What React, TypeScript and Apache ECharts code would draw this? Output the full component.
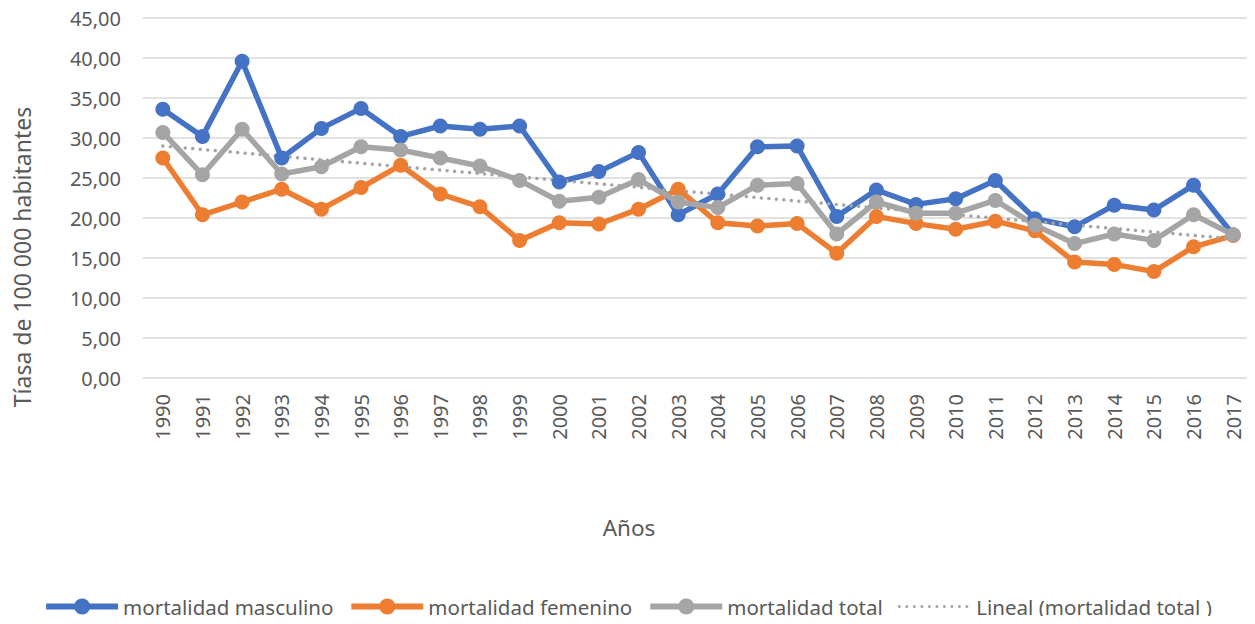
import React, { useEffect, useRef } from "react";
import * as echarts from "echarts";

const years = [
  "1990", "1991", "1992", "1993", "1994", "1995", "1996", "1997", "1998", "1999",
  "2000", "2001", "2002", "2003", "2004", "2005", "2006", "2007", "2008", "2009",
  "2010", "2011", "2012", "2013", "2014", "2015", "2016", "2017",
];

const masculino = [
  33.6, 30.2, 39.6, 27.5, 31.2, 33.7, 30.2, 31.5, 31.1, 31.5,
  24.5, 25.8, 28.2, 20.4, 23.0, 28.9, 29.0, 20.2, 23.5, 21.7,
  22.4, 24.7, 19.9, 18.9, 21.6, 21.0, 24.1, 17.9,
];

const femenino = [
  27.5, 20.4, 22.0, 23.6, 21.1, 23.8, 26.6, 23.0, 21.4, 17.2,
  19.4, 19.25, 21.1, 23.6, 19.4, 19.0, 19.3, 15.6, 20.2, 19.3,
  18.6, 19.6, 18.4, 14.5, 14.2, 13.3, 16.4, 17.8,
];

const total = [
  30.7, 25.4, 31.1, 25.5, 26.4, 28.9, 28.5, 27.5, 26.5, 24.7,
  22.1, 22.6, 24.8, 22.0, 21.3, 24.1, 24.3, 18.0, 22.0, 20.6,
  20.6, 22.2, 19.1, 16.8, 18.0, 17.2, 20.4, 17.9,
];

// Linear trend endpoints
const trendYears = ["1990", "2017"];
const trendValues = [29.0, 17.4];

const seriesNames = [
  "mortalidad masculino",
  "mortalidad femenino",
  "mortalidad total",
  "Lineal (mortalidad total )",
];

const yTicksMin = 0;
const yTicksMax = 45;
const yTicksStep = 5;

const FONT = "Noto Sans";
const TEXT = "#595959";
const DOTS = [0.01, 7.5];

export default function App() {
  const ref = useRef<HTMLDivElement>(null);

  useEffect(() => {
    if (!ref.current) return;
    const chart = echarts.init(ref.current, null, { renderer: "svg" });

    const lineSeries = (name: string, data: number[], color: string) => ({
      name,
      type: "line",
      data,
      symbol: "circle",
      symbolSize: 15,
      itemStyle: { color },
      lineStyle: { color, width: 5.5 },
      emphasis: { disabled: true },
    });

    chart.setOption({
      animation: false,
      textStyle: { fontFamily: FONT },
      grid: { left: 143, right: 2, top: 18, bottom: 246, containLabel: false },
      xAxis: {
        type: "category",
        data: years,
        boundaryGap: true,
        axisLine: { show: false },
        axisTick: { show: false },
        axisLabel: {
          rotate: 90,
          color: TEXT,
          fontSize: 20,
          fontFamily: FONT,
          margin: 16,
          interval: 0,
        },
      },
      yAxis: {
        type: "value",
        min: yTicksMin,
        max: yTicksMax,
        interval: yTicksStep,
        axisLine: { show: false },
        axisTick: { show: false },
        splitLine: { lineStyle: { color: "#d9d9d9", width: 1.5 } },
        axisLabel: {
          color: TEXT,
          fontSize: 20,
          fontFamily: FONT,
          margin: 22,
          formatter: (v: number) => v.toFixed(2).replace(".", ","),
        },
      },
      legend: {
        top: 596,
        left: "center",
        padding: 0,
        itemWidth: 72,
        itemHeight: 20,
        itemGap: 15,
        lineStyle: { width: 6 },
        textStyle: { color: TEXT, fontSize: 20.5, fontFamily: FONT },
        data: [
          seriesNames[0],
          seriesNames[1],
          seriesNames[2],
          {
            name: seriesNames[3],
            itemStyle: { opacity: 0 },
            lineStyle: { width: 3, type: DOTS, cap: "round", color: "#A5A5A5" },
          },
        ],
      },
      graphic: [
        {
          type: "text",
          x: 22,
          y: 257,
          rotation: Math.PI / 2,
          style: {
            text: "Tíasa de 100 000 habitantes",
            fill: TEXT,
            fontSize: 23,
            fontFamily: FONT,
            align: "center",
            verticalAlign: "middle",
          },
        },
        {
          type: "text",
          x: 629,
          y: 527,
          style: {
            text: "Años",
            fill: TEXT,
            fontSize: 22.5,
            fontFamily: FONT,
            align: "center",
            verticalAlign: "middle",
          },
        },
      ],
      series: [
        lineSeries(seriesNames[0], masculino, "#4472C4"),
        lineSeries(seriesNames[1], femenino, "#ED7D31"),
        lineSeries(seriesNames[2], total, "#A5A5A5"),
        {
          name: seriesNames[3],
          type: "line",
          data: trendYears.map((y, i) => [y, trendValues[i]]),
          symbol: "none",
          itemStyle: { color: "#A5A5A5" },
          lineStyle: { color: "#A5A5A5", width: 3.5, type: DOTS, cap: "round" },
          emphasis: { disabled: true },
        },
      ],
    });

    return () => chart.dispose();
  }, []);

  return <div ref={ref} style={{ width: 1255, height: 624, margin: -8 }} />;
}
